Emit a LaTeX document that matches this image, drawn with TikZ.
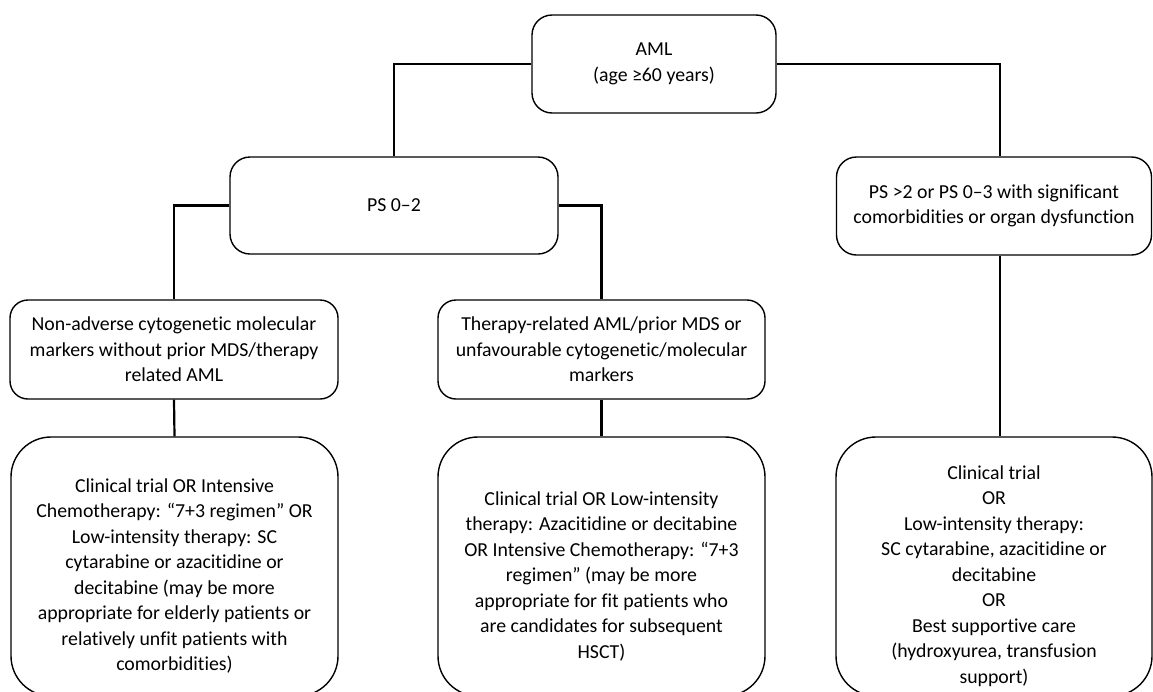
\documentclass[tikz,border=0pt]{standalone}
\usepackage{fontspec}
\setmainfont{Carlito}[Ligatures=NoCommon]
\begin{document}
\begin{tikzpicture}[x=1pt,y=-1pt,
  box/.style={draw=black,line width=1.4pt,rounded corners=20pt,inner sep=0pt},
  bigbox/.style={draw=black,line width=1.4pt,rounded corners=40pt,inner sep=0pt,
    minimum width=327pt,minimum height=259pt},
  txt/.style={align=center,inner sep=0pt,font=\fontsize{19.8}{25.5}\selectfont},
  link/.style={draw=black,line width=2.2pt}]
\useasboundingbox (0,0) rectangle (1153,691);
\clip (0,0) rectangle (1153,691);

% top level
\node[box,minimum width=244pt,minimum height=98pt,txt] (aml) at (654,64)
  {AML\\(age ≥60 years)};

% performance status
\node[box,minimum width=328pt,minimum height=97pt,txt] (ps02) at (394,205.5)
  {PS 0–2};
\node[box,minimum width=315pt,minimum height=98pt,txt] (psgt) at (994,206)
  {PS >2 or PS 0–3 with significant\\comorbidities or organ dysfunction};

% cytogenetic risk
\node[box,rounded corners=18pt,minimum width=328pt,minimum height=99pt,txt] (nonadv) at (174,349.5)
  {Non-adverse cytogenetic molecular\\markers without prior MDS/therapy\\related AML};
\node[box,rounded corners=18pt,minimum width=327pt,minimum height=99pt,txt] (ther) at (601.5,349.5)
  {Therapy-related AML/prior MDS or\\unfavourable cytogenetic/molecular\\markers};

% treatment boxes
\node[bigbox] (b1) at (174.5,566.5) {};
\node[bigbox] (b2) at (601.5,566.5) {};
\node[bigbox,minimum width=316pt] (b3) at (994,566.5) {};

\node[txt] (b1t) at (174.5,576)
  {Clinical trial OR Intensive\\Chemotherapy: “7+3 regimen” OR\\Low-intensity therapy: SC\\cytarabine or azacitidine or\\decitabine (may be more\\appropriate for elderly patients or\\relatively unfit patients with\\comorbidities)};
\node[txt] (b2t) at (601.5,576)
  {Clinical trial OR Low-intensity\\therapy: Azacitidine or decitabine\\OR Intensive Chemotherapy: “7+3\\regimen” (may be more\\appropriate for fit patients who\\are candidates for subsequent\\HSCT)};
\node[txt] (b3t) at (994,576)
  {Clinical trial\\OR\\Low-intensity therapy:\\SC cytarabine, azacitidine or\\decitabine\\OR\\Best supportive care\\(hydroxyurea, transfusion\\support)};

% connectors
\draw[link] (aml.west) -| (ps02.north);
\draw[link] (aml.east) -| ([xshift=6pt]psgt.north);
\draw[link] (ps02.west) -| (nonadv.north);
\draw[link] (ps02.east) -| (ther.north);
\draw[link] (nonadv.south) -- (b1.north);
\draw[link] (ther.south) -- (b2.north);
\draw[link] ([xshift=6pt]psgt.south) -- ([xshift=6pt]b3.north);
\end{tikzpicture}
\end{document}
